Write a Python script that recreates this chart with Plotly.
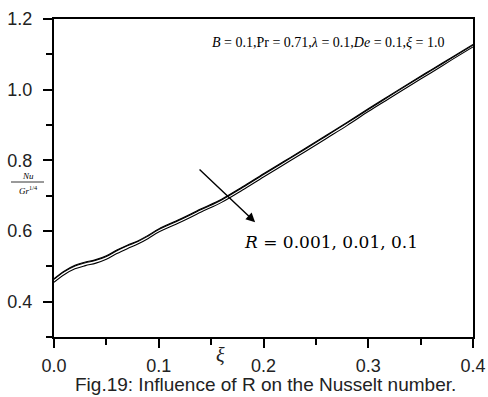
import plotly.graph_objects as go

xi = [0.00, 0.01, 0.02, 0.03, 0.04, 0.05, 0.06, 0.07, 0.08, 0.09, 0.10,
      0.12, 0.14, 0.16, 0.18, 0.20, 0.22, 0.24, 0.26, 0.28, 0.30,
      0.32, 0.34, 0.36, 0.38, 0.40]
nu_R0001 = [0.465, 0.487, 0.503, 0.512, 0.519, 0.530, 0.546, 0.560, 0.572, 0.588, 0.606,
            0.633, 0.662, 0.690, 0.725, 0.762, 0.798, 0.834, 0.871, 0.908, 0.946,
            0.983, 1.020, 1.056, 1.092, 1.128]
nu_R001 = [0.463, 0.485, 0.501, 0.510, 0.517, 0.528, 0.544, 0.558, 0.570, 0.586, 0.604,
           0.631, 0.660, 0.688, 0.723, 0.760, 0.796, 0.832, 0.869, 0.906, 0.944,
           0.981, 1.018, 1.054, 1.090, 1.126]
nu_R01 = [0.455, 0.477, 0.493, 0.502, 0.509, 0.520, 0.536, 0.550, 0.563, 0.579, 0.597,
          0.624, 0.653, 0.681, 0.716, 0.753, 0.789, 0.825, 0.862, 0.899, 0.938,
          0.975, 1.012, 1.048, 1.085, 1.121]
series = [("R=0.001", nu_R0001), ("R=0.01", nu_R001), ("R=0.1", nu_R01)]

W, H = 488, 397
L, R, T, B = 54, 15, 19, 60

fig = go.Figure()
for name, ys in series:
    fig.add_trace(go.Scatter(x=xi, y=ys, mode="lines", name=name,
                             line=dict(color="black", width=1.1, shape="spline"),
                             showlegend=False))

def px(xp):
    return (xp - L) / (W - L - R)

def py(yp):
    return 1 - (yp - T) / (H - T - B)

axis_common = dict(showline=True, linecolor="black", linewidth=2, mirror=True,
                   ticks="outside", tickwidth=2, tickcolor="black", ticklen=9,
                   showgrid=False, zeroline=False, automargin=False,
                   tickfont=dict(family="Liberation Sans, Arial", size=18, color="#222"))

fig.update_xaxes(range=[0, 0.4], tick0=0, dtick=0.1, tickformat=".1f",
                 ticklabelstandoff=2,
                 minor=dict(dtick=0.05, tick0=0, ticks="outside", ticklen=6,
                            tickwidth=2, tickcolor="black"),
                 **axis_common)
fig.update_yaxes(range=[0.3, 1.2], tick0=0.4, dtick=0.2, tickformat=".1f",
                 ticklabelstandoff=7,
                 minor=dict(dtick=0.1, tick0=0.3, ticks="outside", ticklen=6,
                            tickwidth=2, tickcolor="black"),
                 **axis_common)

ann = []
ann.append(dict(text="<i>B</i> = 0.1,Pr = 0.71,<i>λ</i> = 0.1,<i>De</i> = 0.1,<i>ξ</i> = 1.0",
                xref="paper", yref="paper", x=px(210), y=py(43), xanchor="left",
                yanchor="middle", showarrow=False,
                font=dict(family="Liberation Serif, Times New Roman", size=14, color="black")))
ann.append(dict(text="<i>R</i> = 0.001, 0.01, 0.1",
                xref="paper", yref="paper", x=px(242), y=py(242), xanchor="left",
                yanchor="middle", showarrow=False,
                font=dict(family="DejaVu Serif", size=17, color="black")))
ann.append(dict(text="", x=0.192, y=0.625, xref="x", yref="y",
                ax=0.1375, ay=0.778, axref="x", ayref="y", showarrow=True,
                arrowhead=2, arrowsize=1.3, arrowwidth=1.4, arrowcolor="black"))
ann.append(dict(text="<i>ξ</i>", xref="paper", yref="paper", x=px(220), y=py(355),
                xanchor="center", yanchor="middle", showarrow=False,
                font=dict(family="Liberation Serif, Times New Roman", size=20, color="#222")))
ann.append(dict(text="Fig.19: Influence of R on the Nusselt number.", xref="paper", yref="paper",
                x=px(265), y=py(384), xanchor="center", yanchor="middle", showarrow=False,
                font=dict(family="Liberation Sans, Arial", size=19, color="#222")))
ann.append(dict(text="<i>Nu</i>", xref="paper", yref="paper", x=px(28), y=py(176),
                xanchor="center", yanchor="middle", showarrow=False,
                font=dict(family="Liberation Serif, Times New Roman", size=9, color="black")))
ann.append(dict(text="<i>Gr</i><sup>1/4</sup>", xref="paper", yref="paper", x=px(28), y=py(190),
                xanchor="center", yanchor="middle", showarrow=False,
                font=dict(family="Liberation Serif, Times New Roman", size=9, color="black")))

fig.update_layout(
    width=W, height=H, margin=dict(l=L, r=R, t=T, b=B),
    paper_bgcolor="white", plot_bgcolor="white",
    annotations=ann,
    shapes=[dict(type="line", xref="paper", yref="paper", x0=px(11), x1=px(44),
                 y0=py(182), y1=py(182), line=dict(color="black", width=0.8))],
)
fig.write_html("out.html", config={"displayModeBar": False},
               post_script="document.body.style.margin='0px';document.body.style.overflow='hidden';")
